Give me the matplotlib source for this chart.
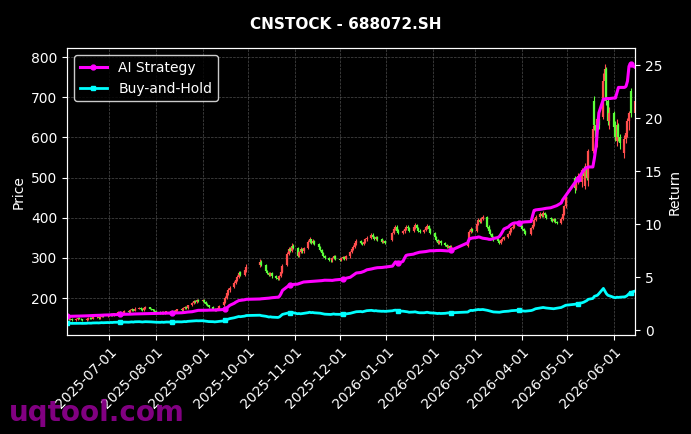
import numpy as np
import pandas as pd
import matplotlib
matplotlib.use("Agg")
import matplotlib.pyplot as plt
import matplotlib.dates as mdates

# trading calendar (A-share, with holidays removed)
holidays = ["2025-10-01", "2025-10-02", "2025-10-03", "2025-10-06", "2025-10-07", "2025-10-08",
            "2026-01-01", "2026-01-02", "2026-02-16", "2026-02-17", "2026-02-18", "2026-02-19",
            "2026-02-20", "2026-02-23", "2026-04-06", "2026-05-01", "2026-05-04", "2026-05-05"]
days = pd.bdate_range("2025-06-03", "2026-06-15")
days = days[~days.isin(pd.to_datetime(holidays))]

# OHLC, one row per month
opens = [
    146, 149, 147, 149, 146, 148, 150, 149, 147, 146, 148, 151, 150, 149, 152, 153, 151, 154, 156, 155,
    158, 157, 160, 158, 162, 165, 163, 161, 164, 168, 166, 170, 172, 169, 174, 176, 173, 171, 175, 177, 174, 172, 170,
    168, 165, 163, 166, 162, 164, 167, 165, 168, 166, 170, 172, 171, 175, 178, 176, 182, 188, 193, 190, 195,
    192, 195, 190, 186, 182, 178, 174, 170, 172, 176, 182, 190, 200, 212, 220, 228, 238, 245, 252, 264, 258, 270,
    282, 290, 282, 268, 262, 258, 262, 254, 250, 248, 255, 266, 282, 310, 322, 318, 330,
    325, 305, 315, 322, 316, 325, 340, 346, 338, 342, 335, 326, 320, 312, 305, 300, 296, 294, 300, 304,
    298, 296, 300, 302, 298, 304, 315, 322, 328, 336, 342, 338, 334, 340, 346, 350, 358, 352, 348, 352, 346, 340, 342,
    345, 362, 372, 378, 368, 362, 366, 372, 378, 374, 368, 376, 382, 374, 368, 364, 370, 376, 380, 372,
    362, 352, 344, 338, 342, 336, 332, 328, 330, 325, 330, 345, 365, 372,
    368, 385, 395, 390, 398, 402, 378, 368, 360, 352, 346, 342, 338, 344, 348, 352, 360, 368, 374, 378, 382, 388,
    378, 372, 366, 360, 375, 382, 395, 402, 410, 405, 412, 406, 400, 396, 392, 396, 390, 388, 398, 410, 428,
    500, 475, 490, 490, 520, 480, 525, 500, 565, 690, 630, 590, 645, 650, 740, 770, 690, 640,
    660, 625, 590, 630, 600, 560, 595, 610, 640, 715, 660,
]
highs = [
    150, 150, 151, 150, 150, 152, 152, 150, 149, 150, 153, 153, 152, 154, 155, 155, 156, 158, 158, 160,
    160, 162, 162, 164, 167, 167, 165, 166, 170, 170, 172, 175, 174, 177, 179, 178, 175, 177, 180, 179, 176, 174, 172,
    170, 167, 168, 168, 166, 169, 169, 170, 170, 172, 174, 174, 177, 180, 180, 184, 190, 196, 196, 198, 198,
    198, 197, 192, 188, 184, 180, 176, 175, 178, 183, 193, 204, 216, 224, 230, 242, 249, 257, 268, 268, 274, 284,
    298, 294, 285, 271, 265, 265, 264, 257, 253, 258, 268, 284, 314, 328, 326, 336, 334,
    328, 318, 326, 325, 328, 344, 352, 348, 346, 345, 338, 329, 323, 315, 308, 303, 299, 303, 307, 306,
    301, 303, 305, 304, 307, 318, 326, 331, 339, 346, 345, 340, 343, 349, 354, 362, 361, 355, 355, 355, 349, 345, 345,
    365, 376, 382, 381, 371, 369, 375, 382, 381, 377, 379, 386, 385, 377, 371, 373, 379, 384, 383, 375,
    365, 355, 347, 345, 345, 339, 335, 333, 333, 331, 348, 369, 376, 375,
    389, 400, 399, 402, 408, 404, 381, 371, 363, 355, 349, 345, 347, 351, 355, 363, 371, 377, 381, 386, 392, 391,
    381, 375, 369, 378, 386, 399, 406, 414, 413, 416, 415, 409, 403, 399, 399, 399, 393, 401, 414, 432, 454,
    505, 496, 512, 525, 528, 535, 530, 570, 630, 702, 640, 650, 655, 760, 782, 775, 695, 675,
    665, 640, 645, 635, 608, 605, 618, 648, 665, 722, 700,
]
lows = [
    144, 145, 145, 144, 144, 146, 147, 145, 144, 144, 146, 148, 147, 147, 150, 149, 149, 152, 153, 153,
    155, 155, 156, 156, 160, 161, 159, 159, 162, 164, 164, 168, 167, 167, 172, 171, 169, 169, 173, 172, 170, 168, 166,
    163, 161, 161, 160, 160, 162, 163, 163, 164, 164, 168, 169, 169, 173, 174, 174, 180, 186, 188, 188, 190,
    190, 188, 184, 180, 176, 172, 168, 168, 170, 174, 180, 188, 198, 208, 216, 226, 235, 242, 250, 255, 255, 266,
    278, 279, 265, 259, 255, 255, 251, 247, 245, 245, 252, 263, 279, 306, 314, 315, 322,
    302, 302, 312, 313, 313, 322, 337, 335, 335, 332, 323, 317, 309, 302, 297, 293, 291, 291, 297, 295,
    293, 293, 297, 295, 295, 301, 312, 319, 325, 333, 335, 331, 331, 337, 343, 347, 349, 345, 345, 343, 337, 337, 335,
    342, 359, 369, 365, 359, 359, 363, 369, 371, 365, 365, 373, 371, 365, 361, 361, 367, 373, 369, 359,
    349, 341, 335, 335, 333, 329, 325, 325, 322, 322, 327, 342, 362, 365,
    365, 382, 387, 387, 395, 375, 365, 357, 349, 343, 339, 335, 335, 341, 345, 349, 357, 365, 371, 375, 379, 375,
    369, 363, 357, 357, 372, 379, 392, 399, 402, 402, 403, 397, 393, 389, 389, 387, 385, 385, 395, 407, 425,
    462, 470, 484, 476, 498, 472, 495, 478, 560, 618, 590, 575, 620, 645, 700, 680, 632, 620,
    615, 590, 578, 590, 572, 548, 585, 600, 618, 650, 655,
]
closes = [
    148, 147, 149, 146, 148, 150, 149, 147, 146, 148, 151, 150, 149, 152, 153, 151, 154, 156, 155, 158,
    157, 160, 158, 162, 165, 163, 161, 164, 168, 166, 170, 172, 169, 174, 176, 173, 171, 175, 177, 174, 172, 170, 168,
    165, 163, 166, 162, 164, 167, 165, 168, 166, 170, 172, 171, 175, 178, 176, 182, 188, 193, 190, 195, 192,
    195, 190, 186, 182, 178, 174, 170, 172, 176, 180, 190, 200, 212, 220, 226, 238, 245, 252, 262, 258, 270, 278,
    290, 282, 268, 262, 258, 262, 254, 250, 248, 255, 265, 280, 310, 322, 318, 330, 325,
    305, 315, 322, 316, 325, 340, 346, 338, 342, 335, 326, 320, 312, 305, 300, 296, 294, 300, 304, 298,
    296, 300, 302, 298, 304, 315, 322, 328, 336, 342, 338, 334, 340, 346, 350, 358, 352, 348, 352, 346, 340, 342, 338,
    362, 372, 378, 368, 362, 366, 372, 378, 374, 368, 376, 382, 374, 368, 364, 370, 376, 380, 372, 362,
    352, 344, 338, 342, 336, 332, 328, 330, 325, 328, 345, 365, 372, 368,
    385, 395, 390, 398, 402, 378, 368, 360, 352, 346, 342, 338, 344, 348, 352, 360, 368, 374, 378, 382, 388, 378,
    372, 366, 360, 375, 382, 395, 402, 410, 405, 412, 406, 400, 396, 392, 396, 390, 388, 398, 410, 428, 448,
    475, 490, 505, 520, 505, 525, 500, 565, 620, 630, 600, 645, 630, 740, 770, 690, 640, 660,
    625, 600, 630, 600, 585, 595, 610, 640, 660, 660, 690,
]

# cumulative returns (right axis)
ai_strategy = [
    1.30, 1.31, 1.31, 1.32, 1.33, 1.33, 1.34, 1.35, 1.35, 1.36, 1.37, 1.37, 1.38, 1.39, 1.40, 1.40, 1.41, 1.42, 1.43, 1.44,
    1.45, 1.46, 1.47, 1.47, 1.48, 1.49, 1.49, 1.50, 1.51, 1.51, 1.52, 1.53, 1.53, 1.54, 1.55, 1.55, 1.56, 1.56, 1.57, 1.57, 1.58, 1.58, 1.59,
    1.59, 1.60, 1.60, 1.60, 1.61, 1.61, 1.61, 1.62, 1.62, 1.63, 1.64, 1.65, 1.66, 1.68, 1.70, 1.72, 1.75, 1.78, 1.82, 1.85, 1.88,
    1.88, 1.89, 1.89, 1.89, 1.90, 1.90, 1.90, 1.91, 1.92, 1.93, 1.96, 2.00, 2.10, 2.22, 2.35, 2.55, 2.65, 2.72, 2.80, 2.82, 2.88, 2.92,
    2.95, 2.97, 3.00, 3.02, 3.03, 3.05, 3.07, 3.10, 3.12, 3.20, 3.45, 3.76, 4.10, 4.20, 4.24, 4.28, 4.32,
    4.35, 4.40, 4.45, 4.50, 4.55, 4.58, 4.60, 4.60, 4.62, 4.62, 4.64, 4.66, 4.68, 4.70, 4.72, 4.72, 4.71, 4.70, 4.72, 4.75,
    4.78, 4.80, 4.82, 4.85, 4.90, 5.00, 5.10, 5.20, 5.30, 5.40, 5.45, 5.50, 5.55, 5.62, 5.70, 5.78, 5.82, 5.85, 5.88, 5.90, 5.92, 5.94, 5.96,
    6.05, 6.25, 6.45, 6.40, 6.32, 6.50, 6.80, 7.05, 7.10, 7.12, 7.18, 7.24, 7.28, 7.32, 7.36, 7.40, 7.42, 7.45, 7.48, 7.50,
    7.50, 7.52, 7.52, 7.53, 7.53, 7.50, 7.48, 7.48, 7.52, 7.55, 8.25, 8.62, 8.66, 8.70,
    8.75, 8.80, 8.78, 8.72, 8.68, 8.62, 8.58, 8.57, 8.60, 8.65, 8.75, 8.85, 9.05, 9.30, 9.55, 9.75, 9.90, 10.00, 10.08, 10.12, 10.14, 10.16,
    10.18, 10.20, 10.22, 10.25, 10.80, 11.30, 11.35, 11.40, 11.42, 11.45, 11.48, 11.50, 11.55, 11.60, 11.66, 11.70, 11.75, 12.00, 12.30, 12.50, 12.70,
    13.90, 14.10, 14.25, 14.90, 15.10, 15.25, 15.35, 15.40, 15.40, 16.20, 17.20, 18.90, 20.50, 21.80, 21.80, 21.85, 21.85, 21.85,
    21.90, 21.90, 22.40, 22.90, 22.90, 22.90, 23.00, 23.50, 24.90, 25.10, 24.80,
]
buy_hold = [
    0.66, 0.65, 0.67, 0.65, 0.66, 0.67, 0.67, 0.66, 0.65, 0.66, 0.68, 0.67, 0.67, 0.69, 0.70, 0.69, 0.71, 0.72, 0.71, 0.73,
    0.72, 0.74, 0.73, 0.75, 0.76, 0.75, 0.74, 0.75, 0.77, 0.76, 0.78, 0.79, 0.77, 0.80, 0.81, 0.79, 0.78, 0.80, 0.81, 0.80, 0.79, 0.78, 0.77,
    0.76, 0.75, 0.77, 0.75, 0.76, 0.78, 0.77, 0.78, 0.77, 0.79, 0.80, 0.79, 0.81, 0.82, 0.81, 0.84, 0.87, 0.89, 0.88, 0.90, 0.89,
    0.90, 0.88, 0.86, 0.84, 0.82, 0.81, 0.79, 0.80, 0.82, 0.84, 0.88, 0.93, 1.00, 1.05, 1.10, 1.18, 1.22, 1.25, 1.30, 1.28, 1.34, 1.39,
    1.42, 1.38, 1.32, 1.28, 1.25, 1.27, 1.24, 1.22, 1.21, 1.26, 1.38, 1.50, 1.60, 1.64, 1.65, 1.68, 1.66,
    1.56, 1.58, 1.55, 1.57, 1.60, 1.66, 1.70, 1.66, 1.68, 1.65, 1.62, 1.61, 1.58, 1.55, 1.52, 1.50, 1.49, 1.52, 1.54, 1.51,
    1.50, 1.52, 1.49, 1.50, 1.54, 1.60, 1.64, 1.68, 1.72, 1.75, 1.77, 1.74, 1.78, 1.82, 1.85, 1.88, 1.85, 1.83, 1.85, 1.82, 1.79, 1.80, 1.78,
    1.84, 1.88, 1.90, 1.85, 1.81, 1.80, 1.78, 1.76, 1.74, 1.70, 1.72, 1.74, 1.70, 1.67, 1.65, 1.65, 1.68, 1.70, 1.67, 1.64,
    1.62, 1.60, 1.58, 1.60, 1.58, 1.60, 1.62, 1.64, 1.63, 1.65, 1.72, 1.82, 1.88, 1.86,
    1.94, 1.96, 1.94, 1.95, 1.96, 1.88, 1.84, 1.80, 1.76, 1.73, 1.71, 1.70, 1.73, 1.75, 1.77, 1.80, 1.83, 1.85, 1.86, 1.87, 1.89, 1.85,
    1.84, 1.82, 1.80, 1.86, 1.90, 1.96, 2.03, 2.10, 2.12, 2.15, 2.12, 2.10, 2.06, 2.04, 2.03, 2.05, 2.08, 2.15, 2.22, 2.30, 2.36,
    2.45, 2.48, 2.52, 2.60, 2.65, 2.72, 2.80, 2.92, 3.00, 3.20, 3.25, 3.30, 3.45, 3.95, 3.70, 3.45, 3.30, 3.25,
    3.10, 3.07, 3.12, 3.10, 3.12, 3.15, 3.20, 3.30, 3.45, 3.55, 3.70,
]

UP = "#ff4d4d"
DOWN = "#5cff3a"

n = min(len(days), len(opens), len(highs), len(lows), len(closes), len(ai_strategy), len(buy_hold))
dates = days[:n]
o = np.array(opens[:n], dtype=float)
h = np.array(highs[:n], dtype=float)
l = np.array(lows[:n], dtype=float)
c = np.array(closes[:n], dtype=float)
cols = np.where(c >= o, UP, DOWN)

fig = plt.figure(figsize=(6.91, 4.34), dpi=100, facecolor="black")
ax = fig.add_axes([0.097, 0.228, 0.822, 0.661])
ax.set_facecolor("black")

# candles: thin wick + thicker body
ax.vlines(dates, l, h, colors=cols, linewidth=0.8)
ax.vlines(dates, o, c, colors=cols, linewidth=1.6)
ax.set_ylim(108, 822)
ax.set_xlim(dates[0], dates[-1])
ax.set_ylabel("Price", color="white")
ax.grid(True, color="gray", linestyle="--", linewidth=0.5, alpha=0.6)

ax2 = ax.twinx()
ax2.plot(dates, ai_strategy[:n], color="magenta", linewidth=2.2, marker="o", markersize=3.5,
         markevery=25, label="AI Strategy")
ax2.plot(dates, buy_hold[:n], color="cyan", linewidth=2.0, marker="s", markersize=3.5,
         markevery=25, label="Buy-and-Hold")
ax2.set_ylim(-0.45, 26.6)
ax2.set_ylabel("Return", color="white")

ax.xaxis.set_major_locator(mdates.MonthLocator())
ax.xaxis.set_major_formatter(mdates.DateFormatter("%Y-%m-%d"))
plt.setp(ax.get_xticklabels(), rotation=45, ha="right", rotation_mode="anchor")

for a in (ax, ax2):
    a.tick_params(colors="white", labelsize=10)
    for s in a.spines.values():
        s.set_color("white")

leg = ax2.legend(loc="upper left", facecolor="black", edgecolor="white", fontsize=10)
for t in leg.get_texts():
    t.set_color("white")

fig.suptitle("CNSTOCK - 688072.SH", color="white", fontsize=11, fontweight="bold", y=0.96)
fig.text(0.013, 0.03, "uqtool.com", color="#990099", fontsize=20, fontweight="bold", alpha=0.85)

fig.savefig("out.png", dpi=100, facecolor="black")
